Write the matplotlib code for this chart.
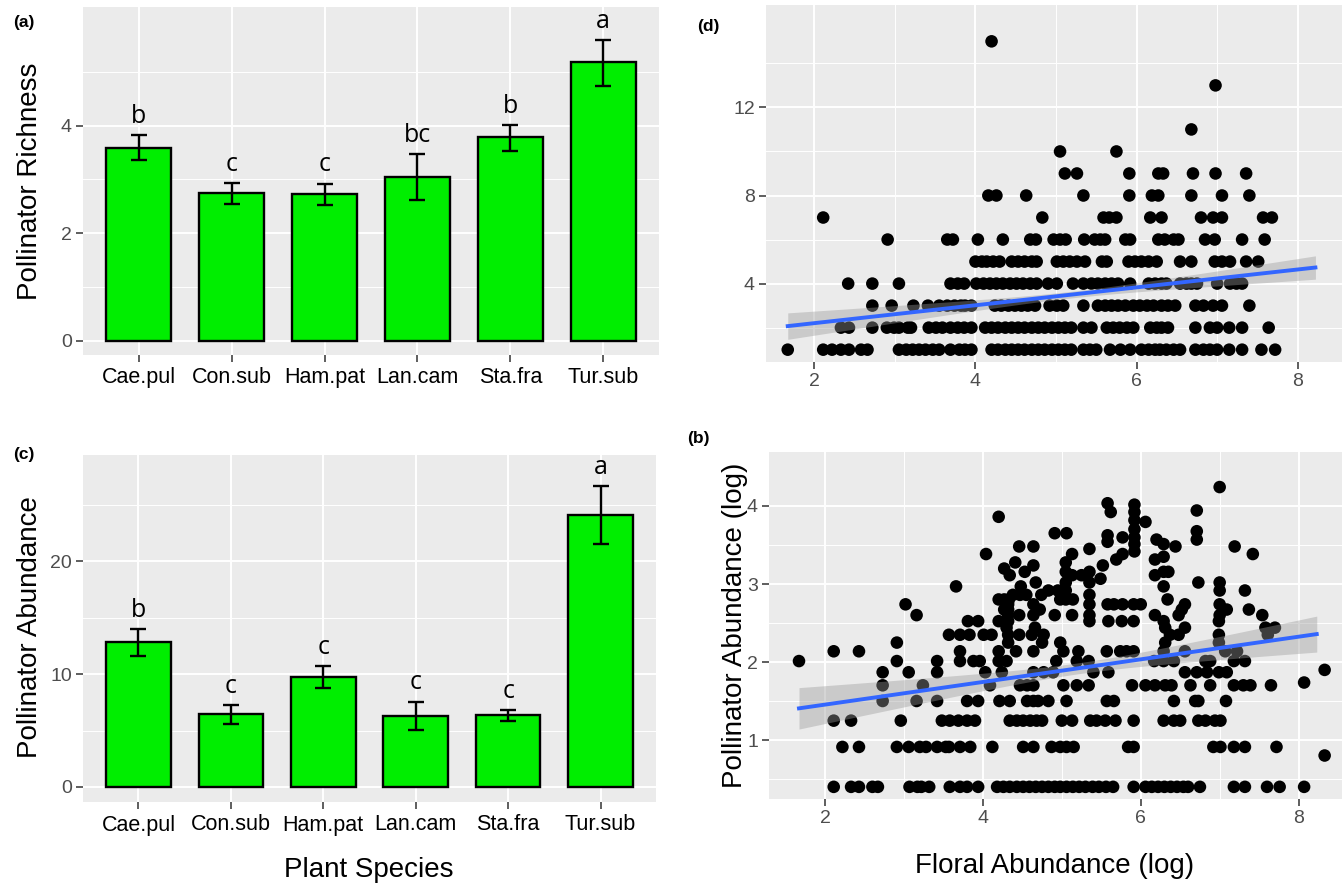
import numpy as np
import matplotlib.pyplot as plt

plt.rcParams["font.family"] = ["Liberation Sans", "DejaVu Sans"]

# ---- bar panels (a) richness, (c) abundance ----
species = ["Cae.pul", "Con.sub", "Ham.pat", "Lan.cam", "Sta.fra", "Tur.sub"]

richness_mean = [3.59, 2.745, 2.73, 3.04, 3.78, 5.17]
richness_lo = [3.36, 2.55, 2.53, 2.61, 3.53, 4.74]
richness_hi = [3.82, 2.93, 2.92, 3.47, 4.01, 5.59]
richness_letters = ["b", "c", "c", "bc", "b", "a"]

abund_mean = [12.85, 6.45, 9.75, 6.33, 6.36, 24.05]
abund_lo = [11.61, 5.57, 8.75, 5.07, 5.86, 21.48]
abund_hi = [13.97, 7.25, 10.72, 7.57, 6.83, 26.64]
abund_letters = ["b", "c", "c", "c", "c", "a"]

# ---- scatter (d): floral abundance (log) for each pollinator richness value ----
rich_rows = {
    1: [1.67, 2.11, 2.22, 2.33, 2.43, 2.58, 2.66, 3.05, 3.14, 3.22, 3.30, 3.38, 3.47, 3.55,
        3.69, 3.80, 3.87, 3.95, 4.20, 4.28, 4.37, 4.45, 4.53, 4.61, 4.70, 4.78, 4.86, 4.95,
        5.03, 5.11, 5.19, 5.34, 5.42, 5.50, 5.67, 5.80, 5.92, 6.06, 6.15, 6.23, 6.29, 6.37,
        6.46, 6.54, 6.73, 6.83, 6.91, 7.00, 7.15, 7.31, 7.55, 7.72],
    2: [2.33, 2.43, 2.72, 2.90, 2.99, 3.05, 3.16, 3.20, 3.42, 3.51, 3.59, 3.69, 3.78, 3.86,
        3.95, 4.12, 4.20, 4.28, 4.37, 4.45, 4.53, 4.61, 4.70, 4.78, 4.86, 4.95, 5.03, 5.11,
        5.19, 5.34, 5.44, 5.63, 5.71, 5.79, 5.88, 5.96, 6.17, 6.25, 6.31, 6.39, 6.73, 6.91,
        7.00, 7.15, 7.31, 7.64],
    3: [2.72, 2.96, 3.23, 3.41, 3.55, 3.65, 3.74, 3.82, 3.87, 3.95, 4.24, 4.32, 4.41, 4.49,
        4.57, 4.65, 4.74, 4.92, 5.01, 5.09, 5.34, 5.52, 5.61, 5.69, 5.77, 5.86, 5.96, 6.04,
        6.13, 6.21, 6.31, 6.39, 6.48, 6.73, 6.83, 6.95, 7.06, 7.40],
    4: [2.42, 2.72, 3.05, 3.69, 3.78, 3.86, 4.01, 4.10, 4.18, 4.26, 4.34, 4.43, 4.51, 4.59,
        4.68, 4.76, 4.90, 5.01, 5.21, 5.34, 5.44, 5.52, 5.61, 5.69, 5.77, 5.92, 6.15, 6.23,
        6.31, 6.37, 6.54, 6.62, 6.68, 6.75, 7.00, 7.16, 7.24, 7.31],
    5: [4.00, 4.08, 4.14, 4.22, 4.30, 4.45, 4.53, 4.61, 4.70, 4.76, 5.01, 5.09, 5.17, 5.26,
        5.36, 5.57, 5.63, 5.90, 5.98, 6.06, 6.15, 6.25, 6.54, 6.68, 6.97, 7.06, 7.16, 7.36,
        7.51],
    6: [2.91, 3.65, 3.72, 4.03, 4.34, 4.68, 4.75, 4.97, 5.05, 5.12, 5.35, 5.48, 5.55, 5.61,
        5.86, 5.92, 6.27, 6.35, 6.46, 6.52, 6.85, 6.97, 7.31, 7.59],
    7: [2.11, 4.83, 5.59, 5.66, 5.75, 6.17, 6.31, 6.80, 6.95, 7.06, 7.57, 7.68],
    8: [4.16, 4.26, 4.63, 5.34, 5.91, 6.19, 6.27, 6.68, 7.06, 7.40],
    9: [5.11, 5.26, 5.91, 6.27, 6.33, 6.70, 6.98, 7.36],
    10: [5.05, 5.75],
    11: [6.68],
    13: [6.98],
    15: [4.20],
}
# fitted lm line: ends (x, y) and CI half-width at left / narrowest / right
rich_fit_x = (1.67, 8.22)
rich_fit_y = (2.07, 4.73)
rich_band = (0.60, 0.15, 0.53)

# ---- scatter (b): floral abundance (log) for each pollinator count; y = log(count + 0.5) ----
abund_rows = {
    1: [2.11, 2.33, 2.43, 2.60, 2.67, 3.07, 3.17, 3.22, 3.32, 3.58, 3.71, 3.80, 3.94, 4.18,
        4.26, 4.34, 4.43, 4.51, 4.59, 4.67, 4.75, 4.83, 4.91, 4.98, 5.06, 5.14, 5.22, 5.30,
        5.39, 5.47, 5.56, 5.65, 5.91, 6.06, 6.14, 6.22, 6.30, 6.38, 6.46, 6.54, 6.60, 6.75,
        7.18, 7.32, 7.60, 7.76, 8.07],
    2: [2.22, 2.43, 2.91, 3.06, 3.20, 3.28, 3.42, 3.53, 3.57, 3.71, 3.84, 4.12, 4.51, 4.64,
        4.87, 4.98, 5.06, 5.15, 5.84, 5.91, 6.92, 7.01, 7.18, 7.32, 7.72],
    3: [2.11, 2.33, 2.96, 3.48, 3.58, 3.69, 3.80, 3.90, 4.34, 4.43, 4.51, 4.60, 4.68, 4.75,
        5.00, 5.13, 5.36, 5.44, 5.55, 5.68, 5.91, 6.29, 6.42, 6.50, 6.73, 6.82, 6.94, 7.01],
    4: [2.73, 3.16, 3.42, 3.80, 3.94, 4.21, 4.34, 4.56, 4.64, 4.70, 4.83, 5.06, 5.57, 5.66,
        6.42, 6.69, 6.73, 7.08],
    5: [2.73, 3.24, 4.09, 4.47, 4.56, 4.64, 5.02, 5.19, 5.34, 5.89, 6.06, 6.18, 6.31, 6.39,
        6.63, 6.88, 7.18, 7.30, 7.39, 7.65],
    6: [2.73, 3.06, 3.42, 4.03, 4.24, 4.64, 4.77, 4.89, 5.40, 5.59, 6.56, 6.71, 6.84, 6.99,
        7.09],
    7: [1.67, 2.91, 3.42, 3.71, 3.88, 3.96, 4.20, 4.30, 4.93, 5.19, 5.34, 6.17, 6.29, 6.42,
        6.82, 6.88, 7.18, 7.32],
    8: [2.11, 2.43, 3.71, 4.20, 4.42, 4.64, 5.02, 5.21, 5.57, 5.74, 5.82, 5.91, 6.29, 6.56,
        7.07, 7.22],
    9: [2.91, 4.32, 4.75, 4.98, 6.31, 6.99],
    10: [3.57, 3.71, 3.83, 4.01, 4.11, 4.32, 4.46, 4.62, 4.77, 6.37, 6.48, 6.99, 7.61],
    11: [4.30, 4.66, 6.31, 6.56, 7.58, 7.70],
    12: [3.81, 3.94, 4.20, 4.32, 5.35, 5.59, 5.76, 5.91, 6.29, 6.99],
    13: [3.16, 4.32, 4.46, 4.64, 4.91, 5.13, 5.35, 6.18, 6.48, 7.00, 7.54],
    14: [4.27, 4.32, 4.72, 6.52, 7.09, 7.37],
    15: [3.02, 4.32, 4.64, 5.35, 5.58, 5.66, 5.77, 5.91, 6.00, 6.56, 7.00],
    16: [4.20, 4.27, 4.33, 4.98, 5.05, 5.14, 6.34],
    17: [4.38, 4.47, 4.55, 4.74, 5.35],
    18: [4.83, 4.95, 5.05, 7.00, 7.32],
    19: [3.66, 4.48, 6.29],
    20: [4.67, 5.05, 5.35, 6.73, 7.00],
    21: [5.49],
    22: [4.34, 5.13, 5.25, 6.18],
    23: [4.53, 5.05, 5.35, 6.29, 6.35],
    24: [4.27],
    25: [4.64, 5.52],
    26: [4.41, 5.05],
    27: [5.69, 6.18],
    28: [6.29],
    29: [4.04, 5.13, 5.77, 7.42],
    30: [5.92],
    31: [5.35],
    32: [4.46, 4.64, 6.44, 7.19],
    33: [5.92, 6.29],
    34: [5.58],
    35: [6.20, 6.71],
    36: [5.77, 5.92],
    37: [5.58],
    38: [4.91, 5.06],
    39: [6.71],
    40: [5.92],
    44: [6.06],
    45: [5.92],
    47: [4.20],
    50: [5.62, 5.92],
    51: [6.71],
    55: [5.92],
    56: [5.58],
    69: [7.00],
}
# a few points off the integer grid at the far right
abund_extra_x = [8.07, 8.33, 8.33]
abund_extra_n = [5.2, 6.2, 1.74]
abund_fit_x = (1.67, 8.23)
abund_fit_y = (1.41, 2.36)
abund_band = (0.265, 0.07, 0.23)

W, H = 1342, 886
fig = plt.figure(figsize=(W / 100, H / 100), dpi=100)


def px_axes(l, t, r, b):
    return fig.add_axes([l / W, 1 - b / H, (r - l) / W, (b - t) / H])


def gg_style(ax):
    ax.set_facecolor("#EBEBEB")
    for s in ax.spines.values():
        s.set_visible(False)
    ax.grid(True, which="major", color="white", lw=1.4)
    ax.grid(True, which="minor", color="white", lw=0.7)
    ax.set_axisbelow(True)
    ax.tick_params(which="major", length=5, width=1.1, color="#333333",
                   labelcolor="#4D4D4D", labelsize=14, pad=3)
    ax.tick_params(which="minor", length=0)


def bar_panel(ax, means, lo, hi, letters, ylim, yticks, yminor):
    gg_style(ax)
    x = np.arange(1, len(species) + 1)
    means = np.array(means)
    ax.bar(x, means, width=0.7, color="#00EE00", edgecolor="black", linewidth=1.7, zorder=2)
    yerr = [means - np.array(lo), np.array(hi) - means]
    ax.errorbar(x, means, yerr=yerr, fmt="none", ecolor="black", elinewidth=1.7,
                capsize=6, capthick=1.7, zorder=3)
    for xi, top, lab in zip(x, hi, letters):
        ax.annotate(lab, (xi, top), xytext=(0, 13.5), textcoords="offset points",
                    ha="center", va="center", fontsize=18, family="Open Sans")
    ax.set_xlim(0.4, 6.6)
    ax.set_ylim(*ylim)
    ax.set_xticks(x, species)
    ax.set_yticks(yticks)
    ax.set_yticks(yminor, minor=True)
    ax.tick_params(axis="x", labelcolor="black", labelsize=15.5, pad=4)


def scatter_panel(ax, xs, ys, fit_x, fit_y, band, xlim, ylim, yticks, yminor):
    gg_style(ax)
    ax.scatter(xs, ys, s=82, color="black", edgecolors="none", zorder=2)
    # lm line with its confidence band (hyperbolic width through the read half-widths)
    x0, x1 = fit_x
    hl, h0, hr = band
    r = np.sqrt((hl ** 2 - h0 ** 2) / (hr ** 2 - h0 ** 2))
    xc = (x0 + r * x1) / (1 + r)
    k = (hl ** 2 - h0 ** 2) / (xc - x0) ** 2
    gx = np.linspace(x0, x1, 100)
    gy = np.interp(gx, fit_x, fit_y)
    half = np.sqrt(h0 ** 2 + k * (gx - xc) ** 2)
    ax.fill_between(gx, gy - half, gy + half, color="#999999", alpha=0.4, lw=0, zorder=3)
    ax.plot(gx, gy, color="#3366FF", lw=2.8, zorder=4)
    ax.set_xlim(*xlim)
    ax.set_ylim(*ylim)
    ax.set_xticks([2, 4, 6, 8])
    ax.set_xticks([3, 5, 7], minor=True)
    ax.set_yticks(yticks)
    ax.set_yticks(yminor, minor=True)


# (a)
ax_a = px_axes(83, 7, 659, 355)
bar_panel(ax_a, richness_mean, richness_lo, richness_hi, richness_letters,
          (-0.26, 6.2), [0, 2, 4], [1, 3, 5])

# (c)
ax_c = px_axes(83, 455, 656, 802)
bar_panel(ax_c, abund_mean, abund_lo, abund_hi, abund_letters,
          (-1.33, 29.4), [0, 10, 20], [5, 15, 25])

# (d)
d_x, d_y = [], []
for r, xs in rich_rows.items():
    d_x += xs
    d_y += [r] * len(xs)
ax_d = px_axes(766, 5, 1342, 362)
scatter_panel(ax_d, d_x, d_y, rich_fit_x, rich_fit_y, rich_band, (1.40, 8.55),
              (0.44, 16.65), [4, 8, 12], [2, 6, 10, 14])

# (b)
b_x, b_n = [], []
for c, xs in abund_rows.items():
    b_x += xs
    b_n += [c] * len(xs)
b_x += abund_extra_x
b_n += abund_extra_n
b_y = np.log(np.array(b_n) + 0.5)
ax_b = px_axes(769, 452, 1342, 799)
scatter_panel(ax_b, b_x, b_y, abund_fit_x, abund_fit_y, abund_band, (1.29, 8.55),
              (0.25, 4.69), [1, 2, 3, 4], [0.5, 1.5, 2.5, 3.5])

# labels
fig.text(13 / W, 1 - 22 / H, "(a)", fontsize=12.5, fontweight="bold", va="center")
fig.text(13 / W, 1 - 455 / H, "(c)", fontsize=12.5, fontweight="bold", va="center")
fig.text(697 / W, 1 - 27 / H, "(d)", fontsize=12.5, fontweight="bold", va="center")
fig.text(687 / W, 1 - 438 / H, "(b)", fontsize=12.5, fontweight="bold", va="center")

fig.text(30 / W, 1 - 181 / H, "Pollinator Richness", fontsize=20, rotation=90,
         ha="center", va="center")
fig.text(30 / W, 1 - 627 / H, "Pollinator Abundance", fontsize=20, rotation=90,
         ha="center", va="center")
fig.text(735 / W, 1 - 625 / H, "Pollinator Abundance (log)", fontsize=20, rotation=90,
         ha="center", va="center")
fig.text(369 / W, 1 - 870 / H, "Plant Species", fontsize=20, ha="center", va="center")
fig.text(1055 / W, 1 - 866 / H, "Floral Abundance (log)", fontsize=20, ha="center",
         va="center")

fig.savefig("out.png", dpi=100)
